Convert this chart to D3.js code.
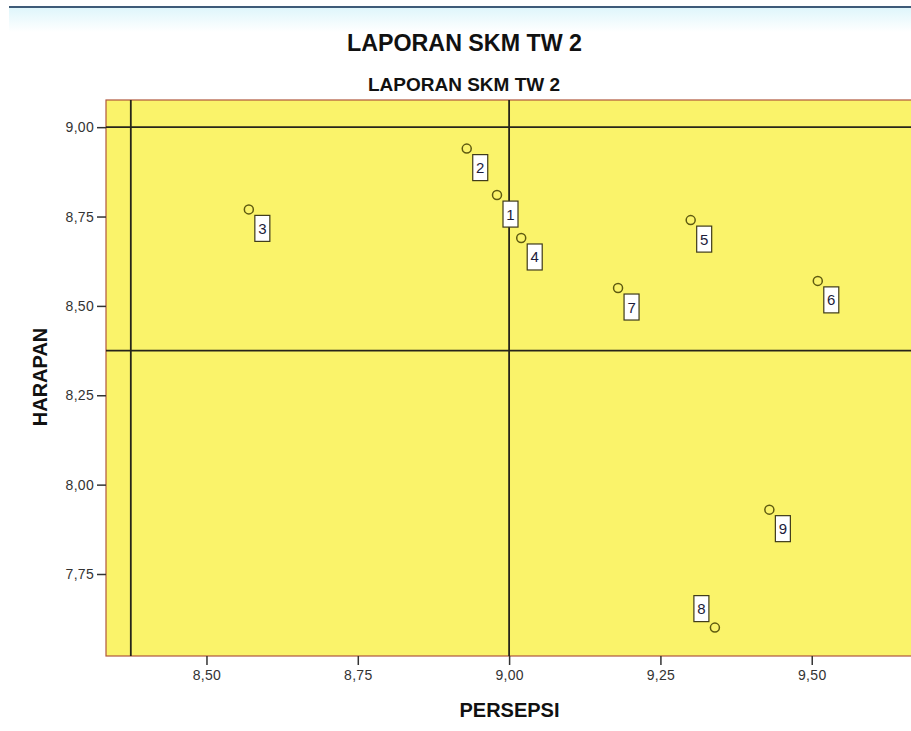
<!DOCTYPE html>
<html>
<head>
<meta charset="utf-8">
<script src="https://cdn.jsdelivr.net/npm/d3@7"></script>
<style>
  body { margin: 0; background: #fff; }
  svg { display: block; font-family: Arial, "Liberation Sans", sans-serif; }
</style>
</head>
<body>
<div id="chart"></div>
<script>
// data
const ids = ["1", "2", "3", "4", "5", "6", "7", "8", "9"];
const persepsi = [8.98, 8.93, 8.57, 9.02, 9.30, 9.51, 9.18, 9.34, 9.43];
const harapan = [8.81, 8.94, 8.77, 8.69, 8.74, 8.57, 8.55, 7.60, 7.93];
const xTicks = [8.50, 8.75, 9.00, 9.25, 9.50];
const yTicks = [7.75, 8.00, 8.25, 8.50, 8.75, 9.00];
const refX = [8.375, 9.00];
const refY = [8.375, 9.00];

const width = 911, height = 731;
const plot = { left: 106, top: 100, right: 911, bottom: 656 };

const svg = d3.select("#chart").append("svg")
    .attr("width", width)
    .attr("height", height);

// header strip (blue line + soft fade)
const defs = svg.append("defs");
const grad = defs.append("linearGradient").attr("id", "fade")
    .attr("x1", 0).attr("y1", 0).attr("x2", 0).attr("y2", 1);
grad.append("stop").attr("offset", "0%").attr("stop-color", "#dff6fb");
grad.append("stop").attr("offset", "100%").attr("stop-color", "#ffffff");
svg.append("rect").attr("x", 9).attr("y", 8).attr("width", width - 9).attr("height", 24)
    .attr("fill", "url(#fade)");
svg.append("line").attr("x1", 9).attr("x2", width).attr("y1", 7).attr("y2", 7)
    .attr("stroke", "#3e5b78").attr("stroke-width", 2);

// titles
svg.append("text")
    .attr("x", 464.5).attr("y", 51)
    .attr("text-anchor", "middle")
    .attr("textLength", 235).attr("lengthAdjust", "spacingAndGlyphs")
    .style("font-size", "24px").style("font-weight", "bold").style("fill", "#111")
    .text("LAPORAN SKM TW 2");

svg.append("text")
    .attr("x", 464).attr("y", 91)
    .attr("text-anchor", "middle")
    .attr("textLength", 192).attr("lengthAdjust", "spacingAndGlyphs")
    .style("font-size", "19px").style("font-weight", "bold").style("fill", "#111")
    .text("LAPORAN SKM TW 2");

// scales
const x = d3.scaleLinear().domain([8.334, 9.664]).range([plot.left, plot.right]);
const y = d3.scaleLinear().domain([7.5206, 9.076]).range([plot.bottom, plot.top]);

// plot background
svg.append("rect")
    .attr("x", plot.left).attr("y", plot.top)
    .attr("width", plot.right - plot.left + 2).attr("height", plot.bottom - plot.top)
    .attr("fill", "#faf36a")
    .attr("stroke", "#b0573c").attr("stroke-width", 1.2);

// reference lines
svg.selectAll(".refx").data(refX).enter().append("line")
    .attr("x1", d => x(d)).attr("x2", d => x(d))
    .attr("y1", plot.top).attr("y2", plot.bottom)
    .attr("stroke", "#26241a").attr("stroke-width", 1.8);

svg.selectAll(".refy").data(refY).enter().append("line")
    .attr("x1", plot.left).attr("x2", plot.right)
    .attr("y1", d => y(d)).attr("y2", d => y(d))
    .attr("stroke", "#26241a").attr("stroke-width", 1.8);

// axes
const fmt = d => d3.format(".2f")(d).replace(".", ",");

const xAxis = svg.append("g")
    .attr("transform", `translate(0,${plot.bottom})`)
    .call(d3.axisBottom(x).tickValues(xTicks).tickFormat(fmt).tickSize(9).tickPadding(5));
xAxis.select(".domain").remove();
xAxis.selectAll("line").attr("stroke", "#333").attr("stroke-width", 1.5);
xAxis.selectAll("text").style("font-size", "14px").style("fill", "#333")
    .style("letter-spacing", "0.3px")
    .style("font-family", "Arial, 'Liberation Sans', sans-serif");

const yAxis = svg.append("g")
    .attr("transform", `translate(${plot.left},0)`)
    .call(d3.axisLeft(y).tickValues(yTicks).tickFormat(fmt).tickSize(9).tickPadding(3));
yAxis.select(".domain").remove();
yAxis.selectAll("line").attr("stroke", "#333").attr("stroke-width", 1.5);
yAxis.selectAll("text").style("font-size", "14px").style("fill", "#333")
    .style("letter-spacing", "0.3px")
    .style("font-family", "Arial, 'Liberation Sans', sans-serif");

// axis titles
svg.append("text")
    .attr("x", 509.5).attr("y", 717)
    .attr("text-anchor", "middle")
    .style("font-size", "20px").style("font-weight", "bold").style("fill", "#111")
    .text("PERSEPSI");

svg.append("text")
    .attr("transform", "translate(47,377) rotate(-90)")
    .attr("text-anchor", "middle")
    .style("font-size", "20px").style("font-weight", "bold").style("fill", "#111")
    .text("HARAPAN");

// points + labels
const pts = ids.map((id, i) => ({ id, px: persepsi[i], py: harapan[i] }));

svg.selectAll(".pt").data(pts).enter().append("circle")
    .attr("cx", d => x(d.px)).attr("cy", d => y(d.py))
    .attr("r", 4.5)
    .attr("fill", "none")
    .attr("stroke", "#5e5a10").attr("stroke-width", 1.5);

const boxW = 15, boxH = 26;
const lab = svg.selectAll(".lab").data(pts).enter().append("g")
    .attr("transform", d => {
        const cx = x(d.px), cy = y(d.py);
        // label 8 sits above-left of its point
        if (d.id === "8") return `translate(${cx - 6 - boxW},${cy - 6 - boxH})`;
        return `translate(${cx + 6},${cy + 6})`;
    });

lab.append("rect")
    .attr("width", boxW).attr("height", boxH)
    .attr("fill", "#fff")
    .attr("stroke", "#3e3a1a").attr("stroke-width", 1.2);

lab.append("text")
    .attr("x", boxW / 2).attr("y", boxH / 2 + 5.5)
    .attr("text-anchor", "middle")
    .style("font-size", "15px").style("fill", "#1c1c3a")
    .text(d => d.id);
</script>
</body>
</html>
